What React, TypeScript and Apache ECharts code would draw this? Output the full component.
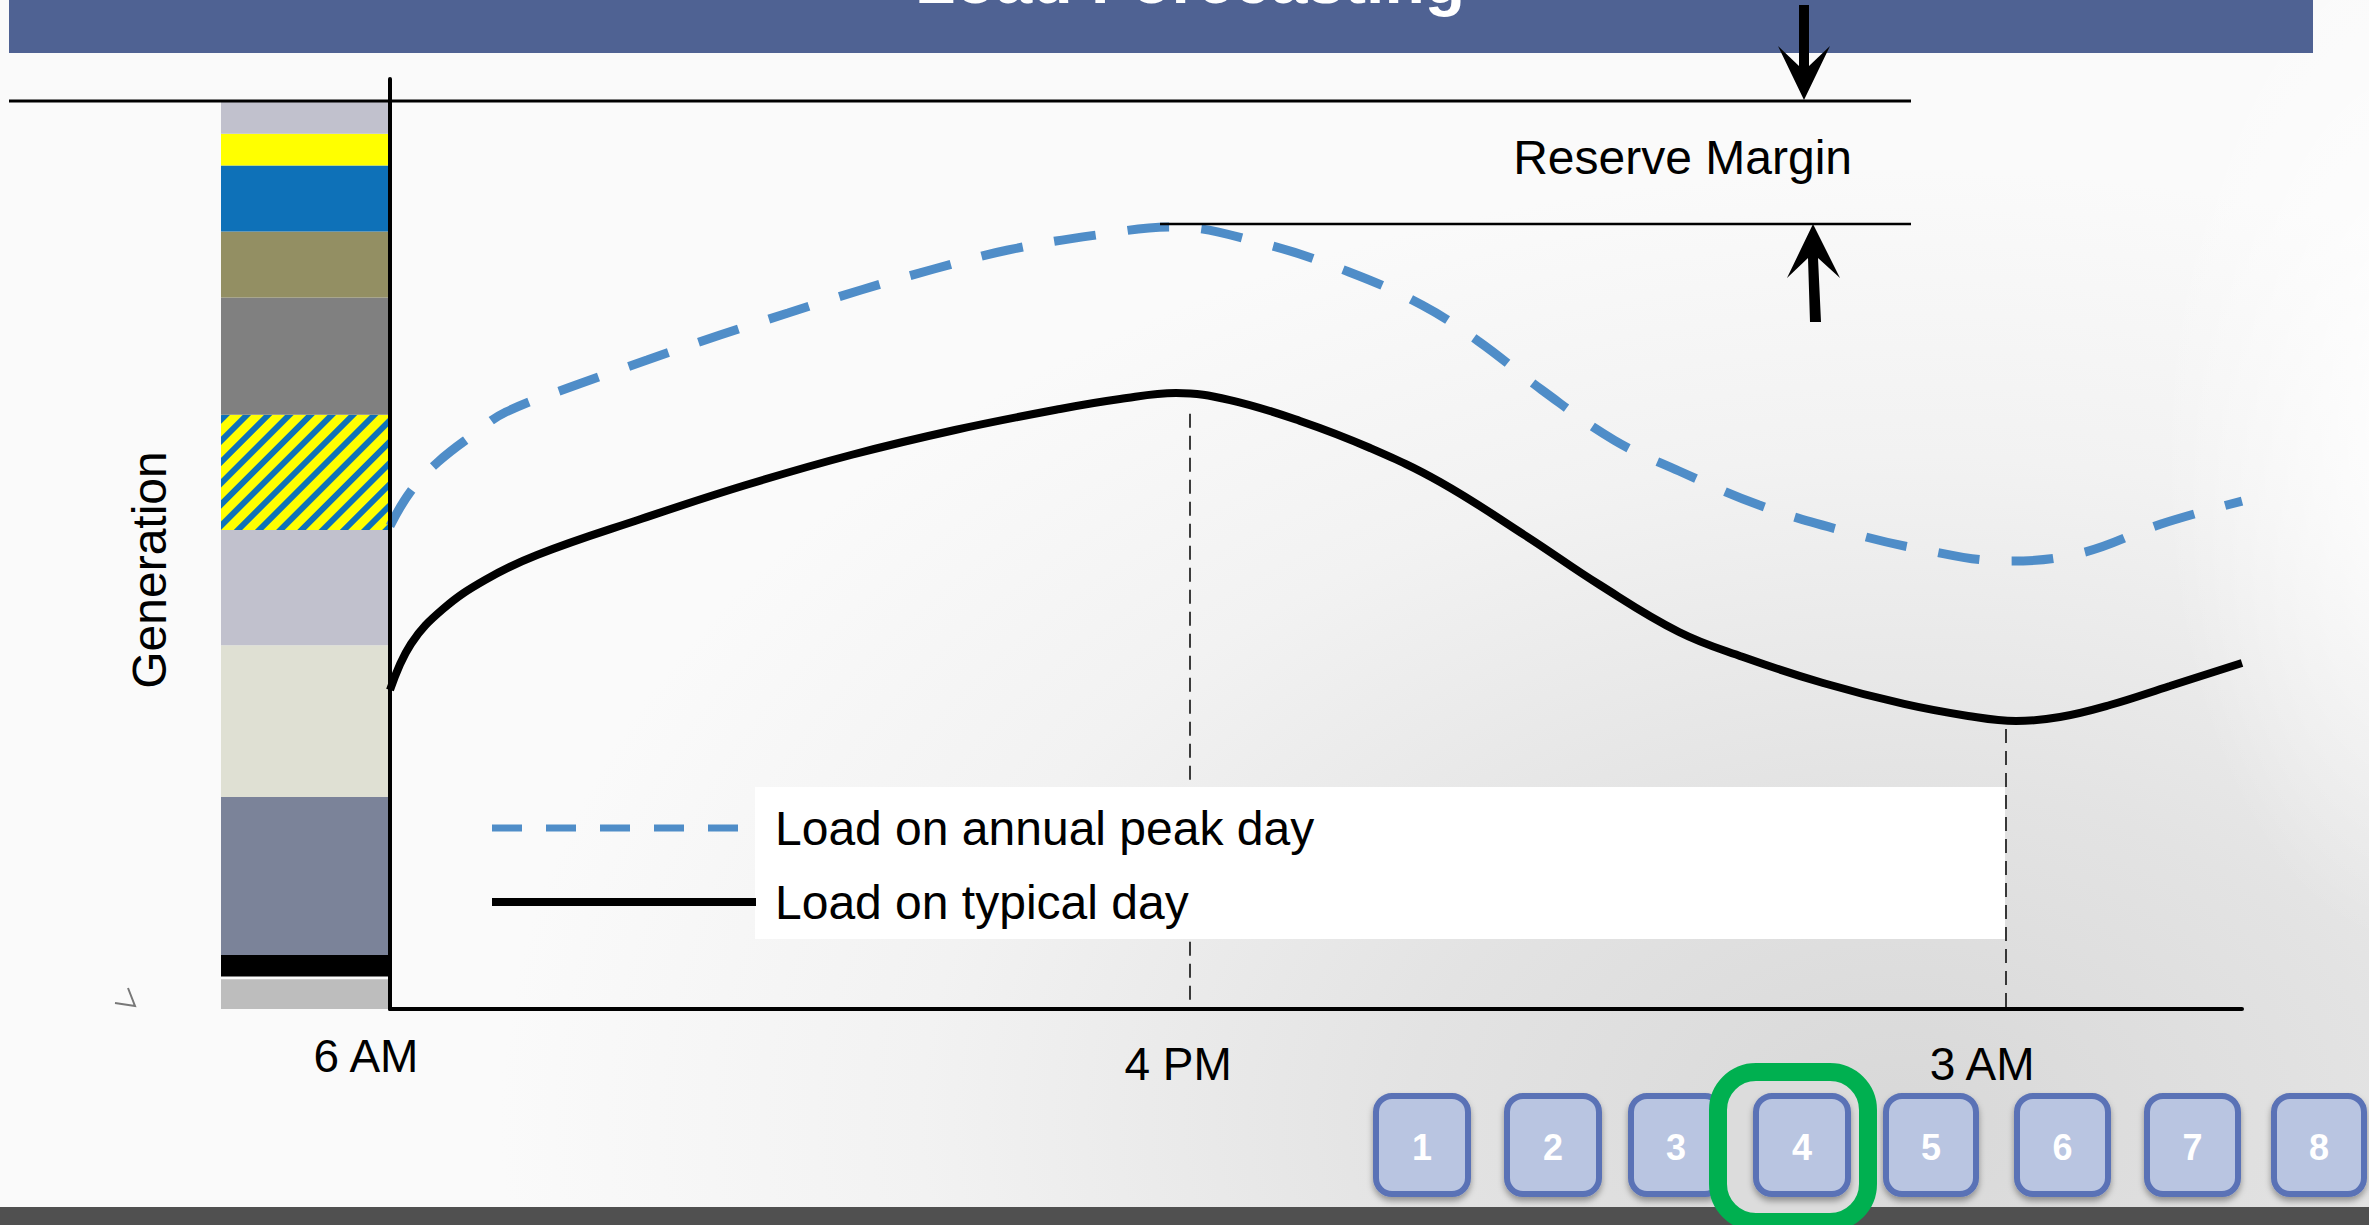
import React, { useEffect, useRef } from 'react';
import * as echarts from 'echarts';

// ---- data ----
const xTickValues = [0, 43.2, 87.26];
const xTickLabels = ['6 AM', '4 PM', '3 AM'];

const peakDayX = [0, 1.13, 2.59, 4.54, 6.26, 10.2, 13.88, 17.82, 21.49, 25.43, 29.37, 33.37, 38.17, 42.22, 47.03, 51.78, 55.72, 58.75, 62.2, 66.09, 69.6, 73.92, 78.29, 82.61, 87.37, 91.31, 95.63, 100];
const peakDayY = [51.94, 55.7, 58.82, 61.83, 64.19, 67.2, 69.78, 72.47, 74.84, 77.31, 79.57, 81.61, 83.23, 84.09, 82.37, 79.25, 75.7, 71.83, 66.56, 61.18, 57.85, 54.19, 51.51, 49.46, 48.17, 49.03, 52.15, 54.62];

const typicalDayX = [0, 1.13, 2.86, 5.13, 7.94, 13.55, 19.22, 24.89, 30.51, 36.18, 39.42, 42.44, 45.36, 49.14, 52.92, 56.7, 61.34, 65.33, 69.6, 73.06, 77.38, 81.75, 85.21, 87.8, 90.17, 92.87, 96.11, 100];
const typicalDayY = [34.3, 39.25, 43.01, 46.13, 48.82, 52.69, 56.34, 59.57, 62.26, 64.52, 65.59, 66.24, 65.48, 63.23, 60.32, 56.67, 50.86, 45.59, 40.54, 37.85, 35.05, 32.8, 31.51, 30.97, 31.4, 32.69, 34.73, 37.2];

// vertical reference drops (x, top y)
const dropX = [43.2, 87.26];
const dropTopY = [64.0, 30.1];

// generation stack (bottom to top)
const genNames = ['Gen A', 'Gap', 'Gen B', 'Gen C', 'Gen D', 'Gen E', 'Gen F', 'Gen G', 'Gen H', 'Gen I', 'Gen J', 'Gen K'];
const genValues = [3.2, 0.3, 2.3, 17.0, 16.3, 12.4, 12.4, 12.6, 7.1, 7.1, 3.4, 3.6];
const genColors = ['#BDBDBD', 'rgba(0,0,0,0)', '#000000', '#7B8399', '#DFE0D3', '#C1C1CD', 'hatch', '#808080', '#938F63', '#0E71B8', '#FFFF00', '#C1C1CD'];

const seriesNames = ['Load on annual peak day', 'Load on typical day'];
const navLabels = ['1', '2', '3', '4', '5', '6', '7', '8'];

const FONT = '"Liberation Sans", Arial, Helvetica, sans-serif';

function buildOption() {
  const peakData = peakDayX.map((x, i) => [x, peakDayY[i]]);
  const typData = typicalDayX.map((x, i) => [x, typicalDayY[i]]);

  const genSeries = genNames.map((name, i) => {
    const c = genColors[i];
    const itemStyle: any =
      c === 'hatch'
        ? {
            color: '#FFFF00',
            decal: {
              symbol: 'rect',
              symbolSize: 1,
              dashArrayX: [1, 0],
              dashArrayY: [6, 9],
              rotation: -Math.PI / 4,
              color: '#0E71B8',
            },
          }
        : { color: c };
    return {
      name,
      type: 'bar',
      stack: 'gen',
      xAxisIndex: 1,
      yAxisIndex: 1,
      barWidth: '100%',
      data: [genValues[i]],
      itemStyle,
      silent: true,
      z: 1,
    };
  });

  const navLeft = [1373, 1504, 1628, 1753, 1883, 2014, 2144, 2271];
  const navW = [98, 98, 96, 98, 96, 97, 97, 96];
  const button = (i: number, zBase = 20) => ({
    type: 'group',
    children: [
      {
        type: 'rect',
        shape: { x: navLeft[i] + 3, y: 1096, width: navW[i] - 6, height: 98, r: 16 },
        style: {
          fill: '#B9C5E1',
          stroke: '#5A72B6',
          lineWidth: 6,
          shadowBlur: 6,
          shadowOffsetY: 4,
          shadowColor: 'rgba(0,0,0,0.35)',
        },
        z: zBase,
      },
      {
        type: 'text',
        x: navLeft[i] + navW[i] / 2,
        y: 1147,
        style: {
          text: navLabels[i],
          fill: '#FFFFFF',
          font: `bold 36px ${FONT}`,
          align: 'center',
          verticalAlign: 'middle',
        },
        z: zBase + 1,
      },
    ],
  });

  const graphic: any[] = [
    // title bar
    { type: 'rect', shape: { x: 9, y: 0, width: 2304, height: 53 }, style: { fill: '#4F6293' }, z: 10 },
    {
      type: 'text',
      x: 1190,
      y: -20,
      style: { text: 'Load Forecasting', fill: '#FFFFFF', font: `bold 66px ${FONT}`, align: 'center', verticalAlign: 'middle' },
      z: 11,
    },
    // reserve margin lines
    { type: 'line', shape: { x1: 9, y1: 101, x2: 1911, y2: 101 }, style: { stroke: '#000', lineWidth: 3 }, z: 12 },
    { type: 'line', shape: { x1: 1160, y1: 224, x2: 1911, y2: 224 }, style: { stroke: '#000', lineWidth: 2.5 }, z: 12 },
    {
      type: 'text',
      x: 1852,
      y: 157,
      style: { text: 'Reserve Margin', fill: '#000', font: `48px ${FONT}`, align: 'right', verticalAlign: 'middle' },
      z: 12,
    },
    // down arrow
    {
      type: 'polygon',
      shape: { points: [[1804, 100], [1778, 46], [1799, 66], [1799, 5], [1809, 5], [1809, 66], [1830, 46]] },
      style: { fill: '#000' },
      z: 13,
    },
    // up arrow
    {
      type: 'polygon',
      shape: { points: [[1813, 224], [1840, 278], [1818, 258], [1821, 322], [1810, 322], [1808, 258], [1787, 278]] },
      style: { fill: '#000' },
      z: 13,
    },
    // legend white panel
    { type: 'rect', shape: { x: 755, y: 787, width: 1250, height: 152 }, style: { fill: '#FFFFFF' }, z: 3 },
    // small stray mark
    {
      type: 'polyline',
      shape: { points: [[115, 1003], [135, 1006], [128, 988]] },
      style: { stroke: '#777', lineWidth: 2, fill: 'none' },
      z: 5,
    },
    // bottom bar
    { type: 'rect', shape: { x: 0, y: 1207, width: 2369, height: 18 }, style: { fill: '#505050' }, z: 15 },
    button(0),
    button(1),
    button(2),
    // highlight ring
    {
      type: 'rect',
      shape: { x: 1718, y: 1072, width: 150, height: 150, r: 38 },
      style: {
        fill: '#DCDCDC',
        stroke: '#00B050',
        lineWidth: 18,
      },
      z: 22,
    },
    button(3, 24),
    button(4),
    button(5),
    button(6),
    button(7),
  ];

  return {
    animation: false,
    backgroundColor: 'transparent',
    textStyle: { fontFamily: FONT },
    grid: [
      { left: 390, top: 79, right: 127, bottom: 216, containLabel: false },
      { left: 221, top: 79, width: 171, bottom: 216, containLabel: false },
    ],
    xAxis: [
      {
        type: 'value',
        gridIndex: 0,
        min: 0,
        max: 100,
        axisLine: { show: true, lineStyle: { color: '#000', width: 4 } },
        axisTick: { show: false },
        splitLine: { show: false },
        axisLabel: {
          show: true,
          customValues: xTickValues,
          margin: 22,
          color: '#000',
          fontSize: 46,
          fontFamily: FONT,
          formatter: (v: number) => {
            const idx = xTickValues.findIndex((t) => Math.abs(t - v) < 0.01);
            if (idx < 0) return '';
            return `{t${idx}|${xTickLabels[idx]}}`;
          },
          rich: {
            t0: { fontSize: 46, lineHeight: 50, color: '#000', fontFamily: FONT, padding: [0, 48, 0, 0] },
            t1: { fontSize: 46, lineHeight: 50, color: '#000', fontFamily: FONT, padding: [15, 24, 0, 0] },
            t2: { fontSize: 46, lineHeight: 50, color: '#000', fontFamily: FONT, padding: [15, 48, 0, 0] },
          },
        },
      },
      {
        type: 'category',
        gridIndex: 1,
        data: ['Generation'],
        show: false,
      },
    ],
    yAxis: [
      {
        type: 'value',
        gridIndex: 0,
        min: 0,
        max: 100,
        name: 'Generation',
        nameLocation: 'middle',
        nameGap: 217,
        nameTextStyle: { fontSize: 48, color: '#000', fontFamily: FONT, padding: [0, 52, 0, 0] },
        axisLine: { show: true, lineStyle: { color: '#000', width: 4 } },
        axisTick: { show: false },
        axisLabel: { show: false },
        splitLine: { show: false },
        z: 6,
      },
      { type: 'value', gridIndex: 1, min: 0, max: 100, show: false },
    ],
    legend: {
      show: true,
      orient: 'vertical',
      left: 488,
      top: 803,
      padding: 0,
      itemWidth: 264,
      itemHeight: 14,
      itemGap: 24,
      selectedMode: false,
      textStyle: { fontSize: 48, lineHeight: 50, color: '#000', fontFamily: FONT, padding: [0, 0, 0, 14] },
      data: [
        {
          name: seriesNames[0],
          lineStyle: { type: [30, 24], width: 7, color: '#4F8DC8' },
          itemStyle: { opacity: 0 },
        },
        {
          name: seriesNames[1],
          lineStyle: { type: 'solid', width: 8, color: '#000' },
          itemStyle: { opacity: 0 },
        },
      ],
      z: 6,
    },
    graphic,
    series: [
      ...genSeries,
      {
        name: seriesNames[0],
        type: 'line',
        xAxisIndex: 0,
        yAxisIndex: 0,
        data: peakData,
        smooth: 0.4,
        symbol: 'none',
        lineStyle: { color: '#4F8DC8', width: 9, type: [42, 32] },
        itemStyle: { color: '#4F8DC8' },
        z: 4,
      },
      {
        name: seriesNames[1],
        type: 'line',
        xAxisIndex: 0,
        yAxisIndex: 0,
        data: typData,
        smooth: 0.4,
        symbol: 'none',
        lineStyle: { color: '#000', width: 8 },
        itemStyle: { color: '#000' },
        z: 4,
        markLine: {
          silent: true,
          symbol: ['none', 'none'],
          label: { show: false },
          z: 2,
          lineStyle: { color: '#000', width: 1.5, type: [14, 8] },
          data: dropX.map((x, i) => [{ coord: [x, dropTopY[i]] }, { coord: [x, 0] }]),
        },
      },
    ],
  };
}

export default function App() {
  const ref = useRef<HTMLDivElement>(null);
  useEffect(() => {
    if (!ref.current) return;
    const chart = echarts.init(ref.current, null, { renderer: 'svg' });
    chart.setOption(buildOption() as any);
    return () => chart.dispose();
  }, []);
  return (
    <div
      ref={ref}
      style={{
        position: 'absolute',
        left: 0,
        top: 0,
        width: 2369,
        height: 1225,
        background:
          'radial-gradient(ellipse 260px 520px at 2420px 430px, rgba(255,255,255,0.95) 0%, rgba(255,255,255,0) 100%), ' +
          'radial-gradient(ellipse 1400px 950px at 1900px 1120px, #D8D8D8 0%, #E3E3E3 35%, #F2F2F2 70%, #FAFAFA 100%)',
      }}
    />
  );
}
